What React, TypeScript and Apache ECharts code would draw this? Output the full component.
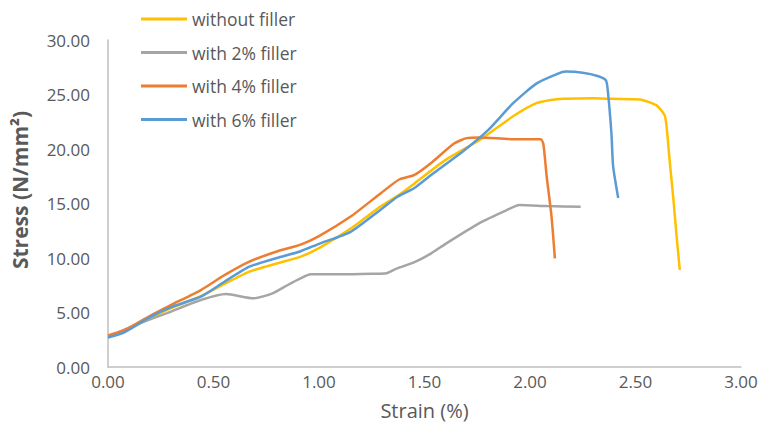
import React, { useEffect, useRef } from "react";
import * as echarts from "echarts";

const seriesNames = ["without filler", "with 2% filler", "with 4% filler", "with 6% filler"];
const colors = ["#FFC000", "#A5A5A5", "#ED7D31", "#5B9BD5"];

const strain0 = [0, 0.08, 0.2, 0.3, 0.44, 0.55, 0.67, 0.8, 0.91, 1.0, 1.15, 1.29, 1.38, 1.45, 1.6, 1.76, 1.92, 2.03, 2.1, 2.16, 2.3, 2.39, 2.52, 2.6, 2.64, 2.66, 2.68, 2.695, 2.71];
const stress0 = [2.8, 3.3, 4.5, 5.4, 6.5, 7.6, 8.75, 9.5, 10.1, 10.9, 12.7, 14.7, 15.8, 16.8, 19.0, 20.8, 23.0, 24.2, 24.5, 24.6, 24.65, 24.6, 24.55, 24.0, 23.0, 19.3, 15.3, 11.95, 8.9];

const strain2 = [0.05, 0.15, 0.28, 0.44, 0.56, 0.69, 0.78, 0.85, 0.91, 0.96, 1.1, 1.25, 1.32, 1.37, 1.45, 1.53, 1.6, 1.76, 1.89, 1.95, 2.08, 2.24];
const stress2 = [3.2, 4.0, 4.95, 6.15, 6.7, 6.3, 6.76, 7.5, 8.1, 8.5, 8.5, 8.55, 8.6, 9.05, 9.6, 10.4, 11.3, 13.2, 14.4, 14.86, 14.77, 14.7];

const strain4 = [0, 0.08, 0.2, 0.3, 0.44, 0.55, 0.67, 0.8, 0.91, 1.0, 1.15, 1.29, 1.38, 1.45, 1.53, 1.64, 1.7, 1.76, 1.92, 2.05, 2.063, 2.079, 2.102, 2.118];
const stress4 = [2.9, 3.4, 4.7, 5.7, 7.06, 8.4, 9.66, 10.6, 11.2, 12.0, 13.8, 15.9, 17.2, 17.6, 18.7, 20.5, 21.0, 21.06, 20.9, 20.9, 20.5, 17.5, 13.8, 9.97];

const strain6 = [0, 0.08, 0.2, 0.3, 0.44, 0.55, 0.67, 0.8, 0.91, 1.0, 1.15, 1.29, 1.37, 1.45, 1.53, 1.68, 1.8, 1.92, 2.03, 2.13, 2.17, 2.25, 2.32, 2.36, 2.37, 2.386, 2.394, 2.418];
const stress6 = [2.7, 3.2, 4.6, 5.5, 6.45, 7.8, 9.2, 10.0, 10.6, 11.3, 12.4, 14.4, 15.6, 16.4, 17.6, 19.75, 21.7, 24.2, 26.0, 26.9, 27.1, 27.0, 26.7, 26.3, 25.1, 21.4, 18.4, 15.5];

const strains = [strain0, strain2, strain4, strain6];
const stresses = [stress0, stress2, stress4, stress6];

const xAxisTitle = "Strain (%)";
const yAxisTitle = "Stress (N/mm²)";

const FONT = "'Open Sans', sans-serif";
const TXT = "#595959";

export default function App() {
  const ref = useRef<HTMLDivElement>(null);
  useEffect(() => {
    if (!ref.current) return;
    const chart = echarts.init(ref.current, undefined, { renderer: "svg" });
    chart.setOption({
      animation: false,
      backgroundColor: "#ffffff",
      grid: { left: 108, right: 27, top: 40, bottom: 58, containLabel: false },
      legend: {
        orient: "vertical",
        left: 136,
        top: 5,
        itemWidth: 46,
        itemHeight: 3,
        itemGap: 15.5,
        icon: "rect",
        textStyle: { color: TXT, fontSize: 17.5, fontFamily: FONT },
        data: seriesNames,
      },
      graphic: [
        {
          type: "text",
          x: 20,
          y: 190,
          rotation: Math.PI / 2,
          style: {
            text: yAxisTitle,
            fill: TXT,
            font: `bold 21px ${FONT}`,
            align: "center",
            verticalAlign: "middle",
          },
        },
      ],
      xAxis: {
        type: "value",
        min: 0,
        max: 3,
        interval: 0.5,
        name: xAxisTitle,
        nameLocation: "middle",
        nameGap: 33,
        nameTextStyle: { color: TXT, fontSize: 20, fontFamily: FONT },
        axisLine: { lineStyle: { color: "#BFBFBF", width: 1.5 } },
        axisTick: { show: false },
        splitLine: { show: false },
        axisLabel: {
          color: TXT,
          fontSize: 17,
          fontFamily: FONT,
          margin: 6,
          formatter: (v: number) => v.toFixed(2),
        },
      },
      yAxis: {
        type: "value",
        min: 0,
        max: 30,
        interval: 5,
        axisLine: { show: true, lineStyle: { color: "#BFBFBF", width: 1.5 } },
        axisTick: { show: false },
        splitLine: { show: false },
        axisLabel: {
          color: TXT,
          fontSize: 17,
          fontFamily: FONT,
          margin: 18,
          formatter: (v: number) => v.toFixed(2),
        },
      },
      series: seriesNames.map((name, i) => ({
        name,
        type: "line",
        showSymbol: false,
        smooth: 0.2,
        color: colors[i],
        lineStyle: { width: 2.5, color: colors[i] },
        data: strains[i].map((x, j) => [x, stresses[i][j]]),
      })),
    });
    return () => chart.dispose();
  }, []);
  return (
    <div
      ref={ref}
      style={{ position: "fixed", left: 0, top: 0, width: 768, height: 425 }}
    />
  );
}
